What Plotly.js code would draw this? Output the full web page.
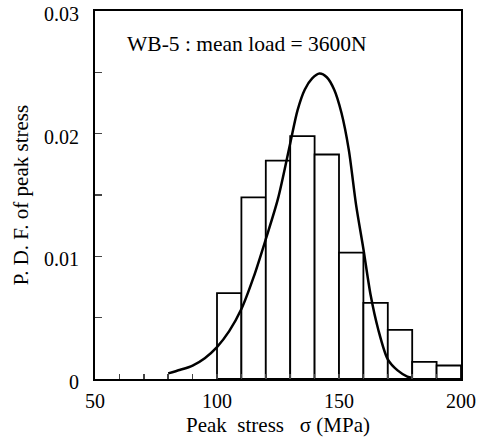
<!DOCTYPE html>
<html>
<head>
<meta charset="utf-8">
<script src="https://cdn.plot.ly/plotly-3.0.1.min.js"></script>
<style>html,body{margin:0;padding:0;background:#fff;}#chart{width:489px;height:448px;}</style>
</head>
<body>
<div id="chart"></div>
<script>
// Histogram bins (MPa) and probability densities
const binCenters = [105, 115, 125, 135, 145, 155, 165, 175, 185, 195];
const binDensity = [0.0070, 0.0148, 0.0178, 0.0198, 0.0183, 0.0103, 0.0062, 0.0040, 0.0014, 0.0011];

// Fitted PDF curve
const curveX = [80, 85, 90, 95, 100, 105, 110, 115, 120, 125, 130, 133, 136, 139, 142, 145, 148, 151, 154, 157, 160, 163, 166, 170, 174, 178, 180];
const curveY = [0.00046, 0.00075, 0.0011, 0.0017, 0.0026, 0.0039, 0.0057, 0.0083, 0.0114, 0.0147, 0.0192, 0.0219, 0.0236, 0.0245, 0.0249, 0.0246, 0.0236, 0.0217, 0.0187, 0.0142, 0.0106, 0.0068, 0.0041, 0.0016, 0.0007, 0.0002, 0.0001];

const xTicks = [50, 100, 150, 200];
const yTicks = [0, 0.01, 0.02, 0.03];
const yTickText = ['0', '0.01', '0.02', '0.03'];

const FONT = 'Liberation Serif, Times New Roman, serif';

const traces = [
  {
    type: 'bar', x: binCenters, y: binDensity, width: 10,
    marker: {color: 'rgba(255,255,255,1)', line: {color: '#000', width: 1.8}},
    hoverinfo: 'skip', showlegend: false
  },
  {
    type: 'scatter', mode: 'lines', x: curveX, y: curveY,
    line: {color: '#000', width: 2.5, shape: 'spline', smoothing: 0.8},
    showlegend: false
  }
];

const layout = {
  width: 489, height: 448,
  margin: {l: 95, r: 28, t: 11, b: 69},
  paper_bgcolor: '#fff', plot_bgcolor: '#fff',
  font: {family: FONT, size: 18, color: '#000'},
  bargap: 0,
  xaxis: {
    range: [50, 200], tickvals: xTicks, ticks: 'inside', ticklen: 5, tickwidth: 1.5,
    showgrid: false, zeroline: false, showline: true, linewidth: 2, linecolor: '#000', mirror: true,
    minor: {dtick: 10, ticks: 'inside', ticklen: 5, tickwidth: 1.5, showgrid: false},
    tickfont: {family: FONT, size: 20}, ticklabelstandoff: 3, ticklabeloverflow: 'allow',
    title: {text: 'Peak\u00A0 stress\u00A0\u00A0 σ (MPa)', font: {family: FONT, size: 21}, standoff: 6}
  },
  yaxis: {
    range: [0, 0.03], tickvals: yTicks, ticktext: yTickText, ticks: 'inside', ticklen: 7, tickwidth: 1.5,
    showgrid: false, zeroline: false, showline: true, linewidth: 2, linecolor: '#000', mirror: true,
    minor: {dtick: 0.005, ticks: 'inside', ticklen: 7, tickwidth: 1.5, showgrid: false},
    tickfont: {family: FONT, size: 20}, ticklabelstandoff: 10, ticklabelshift: 3, ticklabeloverflow: 'allow',
    title: {text: 'P. D. F. of peak stress', font: {family: FONT, size: 21}, standoff: 10}
  },
  annotations: [{
    x: 62.3, y: 0.0273, xref: 'x', yref: 'y', xanchor: 'left', yanchor: 'middle',
    text: 'WB-5 : mean load = 3600N', showarrow: false, font: {family: FONT, size: 21.5, color: '#000'}
  }]
};

Plotly.newPlot('chart', traces, layout, {staticPlot: true, displayModeBar: false});
</script>
</body>
</html>
